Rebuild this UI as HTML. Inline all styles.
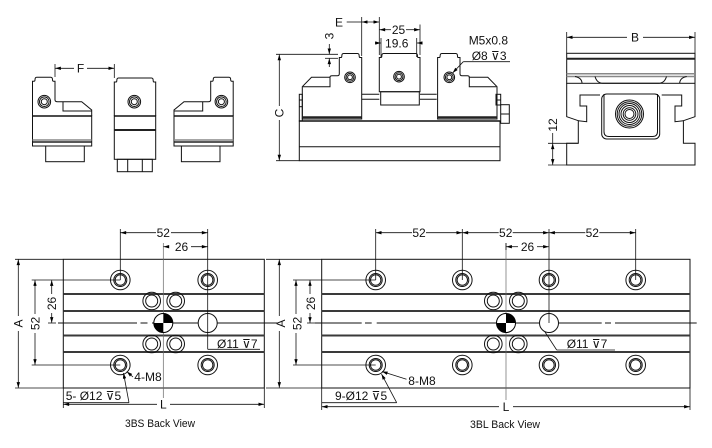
<!DOCTYPE html>
<html><head><meta charset="utf-8"><style>
html,body{margin:0;padding:0;background:#fff;}
svg{display:block;}
text{font-family:"Liberation Sans","DejaVu Sans",sans-serif;font-size:12px;fill:#111;}
.l{stroke:#111;stroke-width:1;fill:none;}
.t{stroke:#111;stroke-width:0.8;fill:none;}
.g{stroke:#3a3a3a;stroke-width:2;fill:none;}
.gy{stroke:#888;stroke-width:1.5;fill:none;}
.c{stroke:#666;stroke-width:0.7;fill:none;}
</style></head><body>
<svg width="712" height="448" viewBox="0 0 712 448" xmlns="http://www.w3.org/2000/svg">
<defs>
<marker id="ar" viewBox="0 0 10 6" refX="10" refY="3" markerWidth="6" markerHeight="3.4" orient="auto-start-reverse" markerUnits="userSpaceOnUse"><path d="M0,0L10,3L0,6z" fill="#000"/></marker>
<g id="jawL">
  <path class="l" d="M32.5,116 V81.2 h1.5 q1,0 1,-1.3 q0,-2.7 1.7,-2.7 H50.8 q1.7,0 1.7,2.7 q0,1.3 1,1.3 h1.5 V99.7 q0,2 2.5,2 H81.7 L91.7,110 V116"/>
  <rect class="l" x="32.5" y="116" width="59.2" height="30"/>
  <line x1="32.5" y1="116" x2="91.7" y2="116" stroke="#111" stroke-width="1.6"/>
  <line class="gy" x1="32.5" y1="140" x2="91.7" y2="140" stroke-width="1"/>
  <line x1="32.5" y1="142" x2="91.7" y2="142" stroke="#222" stroke-width="1.6"/>
  <path class="l" d="M63,101.7 V111 H91.7"/>
  <rect class="l" x="45.7" y="146" width="38.6" height="15.7"/>
  <circle class="l" cx="44.3" cy="101.7" r="6.3"/>
  <circle class="l" cx="44.3" cy="101.7" r="4.8" stroke-width="1.3"/>
  <circle class="l" cx="44.3" cy="101.7" r="3"/>
</g>
<g id="mjL">
  <path class="l" d="M302.3,119 V86.7 L311.5,77.3 H330 Q330,75.7 332,75.7 H337.3 Q339.3,75.7 339.3,73.7 V57.5 h1.5 q1,0 1,-1.3 q0,-2.7 1.7,-2.7 H357.5 q1.7,0 1.7,2.7 q0,1.3 1,1.3 h1.5 V119 Z"/>
  <path class="l" d="M303,86.7 H330 V77.3"/>
  <line x1="302.3" y1="117.3" x2="361.7" y2="117.3" stroke="#222" stroke-width="2"/>
  <circle class="l" cx="350" cy="77.3" r="5.3"/>
  <circle class="l" cx="350" cy="77.3" r="3.9" stroke-width="1.3"/>
  <circle class="l" cx="350" cy="77.3" r="2.4"/>
</g>
<g id="hole">
  <circle class="l" r="9.8"/>
  <circle class="l" r="6.5" stroke-width="1.4"/>
  <circle class="l" r="5.2" stroke-width="0.8"/>
</g>
<g id="pk">
  <circle class="l" r="8.8"/>
  <circle class="l" r="6" stroke-width="1.1"/>
</g>
<g id="cm">
  <circle cx="0" cy="0" r="9.5" fill="#fff" stroke="#000" stroke-width="1"/>
  <path d="M0,0 V-9.5 A9.5,9.5 0 0 1 9.5,0 Z" fill="#000"/>
  <path d="M0,0 V9.5 A9.5,9.5 0 0 1 -9.5,0 Z" fill="#000"/>
</g>
</defs>
<rect width="712" height="448" fill="#fff"/>

<!-- ============ TOP LEFT: jaws ============ -->
<use href="#jawL"/>
<use href="#jawL" transform="translate(265.7,0) scale(-1,1)"/>
<!-- middle jaw -->
<path class="l" d="M114.3,116 V82 h1.5 q1,0 1,-1.3 q0,-2.7 1.7,-2.7 H151.5 q1.7,0 1.7,2.7 q0,1.3 1,1.3 h1.5 V116"/>
<rect class="l" x="114.3" y="116" width="41.4" height="43.3"/>
<line x1="114.3" y1="116" x2="155.7" y2="116" stroke="#111" stroke-width="1.6"/>
<line x1="114.3" y1="130" x2="155.7" y2="130" stroke="#222" stroke-width="2"/>
<rect class="l" x="117.3" y="159.3" width="35" height="12.4"/>
<line class="l" x1="127.7" y1="159.3" x2="127.7" y2="171.7"/>
<line class="l" x1="142.3" y1="159.3" x2="142.3" y2="171.7"/>
<circle class="l" cx="134.3" cy="101.7" r="6.3"/>
<circle class="l" cx="134.3" cy="101.7" r="4.8" stroke-width="1.3"/>
<circle class="l" cx="134.3" cy="101.7" r="3"/>
<!-- F dim -->
<line class="t" x1="55" y1="64" x2="55" y2="77"/>
<line class="t" x1="114.3" y1="64" x2="114.3" y2="78"/>
<line class="t" x1="74" y1="68.3" x2="55.2" y2="68.3" marker-end="url(#ar)"/>
<line class="t" x1="87" y1="68.3" x2="114.1" y2="68.3" marker-end="url(#ar)"/>
<text x="80.5" y="72.6" text-anchor="middle">F</text>

<!-- ============ TOP MIDDLE: assembled vise ============ -->
<rect class="l" x="299.3" y="121" width="200.7" height="39.7"/>
<line x1="299.3" y1="121" x2="500" y2="121" stroke="#111" stroke-width="1.5"/>
<line class="l" x1="299.3" y1="146.7" x2="500" y2="146.7"/>
<!-- left stub -->
<rect class="l" x="299.3" y="94.3" width="3" height="26.7"/>
<line class="l" x1="299.3" y1="100" x2="302.3" y2="100"/>
<line class="l" x1="299.3" y1="106.7" x2="302.3" y2="106.7"/>
<!-- rails -->
<line class="l" x1="361.7" y1="94.3" x2="379.3" y2="94.3"/>
<line class="l" x1="361.7" y1="99.3" x2="379.3" y2="99.3"/>
<line class="l" x1="420" y1="94.3" x2="436.7" y2="94.3"/>
<line class="l" x1="420" y1="99.3" x2="436.7" y2="99.3"/>
<use href="#mjL"/>
<use href="#mjL" transform="translate(799.3,0) scale(-1,1)"/>
<!-- middle jaw -->
<path class="l" d="M379.3,91.7 V57.5 h1.5 q1,0 1,-1.3 q0,-2.7 1.7,-2.7 H415.8 q1.7,0 1.7,2.7 q0,1.3 1,1.3 h1.5 V91.7 Z"/>
<rect class="l" x="380.7" y="91.7" width="38.6" height="13.3"/>
<circle class="l" cx="399" cy="76.7" r="5.3"/>
<circle class="l" cx="399" cy="76.7" r="3.9" stroke-width="1.4"/>
<circle class="l" cx="399" cy="76.7" r="2.4"/>
<!-- right stub + bolt -->
<rect class="l" x="496" y="94.3" width="4.7" height="10.7"/>
<line class="l" x1="496" y1="100" x2="500.7" y2="100"/>
<rect class="l" x="500.7" y="104.7" width="8.6" height="18.6"/>
<line class="l" x1="500.7" y1="114" x2="509.3" y2="114"/>
<!-- C dim -->
<line class="t" x1="276" y1="54.3" x2="338" y2="54.3"/>
<line class="t" x1="276" y1="160.7" x2="299.3" y2="160.7"/>
<line class="t" x1="279.3" y1="106" x2="279.3" y2="54.6" marker-end="url(#ar)"/>
<line class="t" x1="279.3" y1="120" x2="279.3" y2="160.4" marker-end="url(#ar)"/>
<text transform="translate(279.3,113) rotate(-90)" text-anchor="middle" y="4.3">C</text>
<!-- 3 dim -->
<line class="t" x1="325" y1="58.3" x2="338" y2="58.3"/>
<line class="t" x1="329.3" y1="44" x2="329.3" y2="54.1" marker-end="url(#ar)"/>
<line class="t" x1="329.3" y1="67" x2="329.3" y2="58.5" marker-end="url(#ar)"/>
<text transform="translate(329.3,36) rotate(-90)" text-anchor="middle" y="4.3">3</text>
<!-- E dim -->
<text x="339" y="26.3" text-anchor="middle">E</text>
<line class="t" x1="346.7" y1="22" x2="361.7" y2="22"/>
<line class="t" x1="361.9" y1="22" x2="379.1" y2="22" marker-start="url(#ar)" marker-end="url(#ar)"/>
<line class="t" x1="361.7" y1="17" x2="361.7" y2="56"/>
<line class="t" x1="379.3" y1="17" x2="379.3" y2="55"/>
<!-- 25 dim -->
<line class="t" x1="391" y1="29.7" x2="379.5" y2="29.7" marker-end="url(#ar)"/>
<line class="t" x1="406" y1="29.7" x2="419.8" y2="29.7" marker-end="url(#ar)"/>
<line class="t" x1="420" y1="24.5" x2="420" y2="55"/>
<text x="398.5" y="34" text-anchor="middle">25</text>
<!-- 19.6 dim -->
<line class="t" x1="375" y1="43" x2="380.8" y2="43" marker-end="url(#ar)"/>
<line class="t" x1="422.5" y1="43" x2="416.9" y2="43" marker-end="url(#ar)"/>
<line class="t" x1="381" y1="38" x2="381" y2="57"/>
<line class="t" x1="416.7" y1="38" x2="416.7" y2="57"/>
<text x="396.7" y="47.3" text-anchor="middle">19.6</text>
<!-- M5 callout -->
<text x="468.7" y="44.5">M5x0.8</text>
<text x="471.7" y="60">Ø8 ⊽3</text>
<line class="t" x1="463.3" y1="61.7" x2="510" y2="61.7"/>
<line class="t" x1="463.3" y1="61.7" x2="452.6" y2="73" marker-end="url(#ar)"/>

<!-- ============ TOP RIGHT: side view ============ -->
<line class="t" x1="566.7" y1="32" x2="566.7" y2="53.3"/>
<line class="t" x1="695" y1="32" x2="695" y2="53.3"/>
<line class="t" x1="627" y1="37.3" x2="566.9" y2="37.3" marker-end="url(#ar)"/>
<line class="t" x1="643" y1="37.3" x2="694.8" y2="37.3" marker-end="url(#ar)"/>
<text x="635" y="41.6" text-anchor="middle">B</text>
<rect class="l" x="566.7" y="53.3" width="128.3" height="30"/>
<line x1="566.7" y1="58.8" x2="695" y2="58.8" stroke="#222" stroke-width="2"/>
<line class="gy" x1="566.7" y1="73.8" x2="695" y2="73.8"/>
<line class="gy" x1="566.7" y1="76.5" x2="695" y2="76.5"/>
<path class="l" d="M595,76.5 Q597,83.3 603,83.3 H658.5 Q664.5,83.3 666.5,76.5"/>
<path class="l" d="M575,76.5 Q582,78 582,83.3"/>
<path class="l" d="M686.7,76.5 Q679.7,78 679.7,83.3"/>
<path class="l" d="M566.7,83.3 V116.7 L578.3,120.7 V143.3 H566.7 V165 H695 V143.3 H683.4 V120.7 L695,116.7 V83.3"/>
<path class="l" d="M600,95 H580 V106 H586.7 V121.7 L578.3,120.7"/>
<path class="l" d="M661.7,95 H681.7 V106 H675 V121.7 L683.4,120.7"/>
<rect class="l" x="601.7" y="94" width="58" height="45" rx="5"/>
<path class="l" d="M604,94 V131.5 q0,5 5,5 H652.5 q5,0 5,-5 V94"/>
<circle class="l" cx="629.5" cy="114" r="14"/>
<circle class="l" cx="629.5" cy="114" r="12.3"/>
<circle class="l" cx="629.5" cy="114" r="10.5"/>
<circle class="l" cx="629.5" cy="114" r="8.5"/>
<circle class="l" cx="629.5" cy="114" r="6.3" stroke-width="1.6"/>
<circle class="l" cx="629.5" cy="114" r="4.5"/>
<!-- 12 dim -->
<line class="t" x1="548" y1="143.3" x2="578.3" y2="143.3"/>
<line class="t" x1="548" y1="165" x2="566.7" y2="165"/>
<line class="t" x1="552.7" y1="133" x2="552.7" y2="143.3"/>
<line class="t" x1="552.7" y1="143.5" x2="552.7" y2="164.8" marker-start="url(#ar)" marker-end="url(#ar)"/>
<text transform="translate(552.7,125) rotate(-90)" text-anchor="middle" y="4.3">12</text>

<!-- ============ BOTTOM LEFT: 3BS back view ============ -->
<rect class="l" x="63.3" y="259.3" width="201" height="128.7"/>
<line class="g" x1="63.3" y1="294" x2="264.3" y2="294"/>
<line class="g" x1="63.3" y1="311" x2="264.3" y2="311"/>
<line class="g" x1="63.3" y1="335.5" x2="264.3" y2="335.5"/>
<line class="g" x1="63.3" y1="352" x2="264.3" y2="352"/>
<!-- centre lines -->
<line class="l" x1="58" y1="323" x2="137" y2="323"/>
<line class="l" x1="140.5" y1="323" x2="147.5" y2="323"/>
<line class="l" x1="152" y1="323" x2="277" y2="323"/>
<line class="c" x1="163.3" y1="243" x2="163.3" y2="398"/>
<use href="#hole" x="120.3" y="280"/>
<use href="#hole" x="207.7" y="280"/>
<use href="#hole" x="120.3" y="365"/>
<use href="#hole" x="207.7" y="365"/>
<use href="#pk" x="151.7" y="301"/>
<use href="#pk" x="175.7" y="301"/>
<use href="#pk" x="151.7" y="344"/>
<use href="#pk" x="175.7" y="344"/>
<circle cx="207.7" cy="323" r="9.5" fill="#fff" stroke="#111" stroke-width="1"/>
<use href="#cm" x="163.3" y="323"/>
<!-- top dims -->
<line class="t" x1="120.3" y1="229" x2="120.3" y2="280"/>
<line class="t" x1="207.7" y1="229" x2="207.7" y2="349.3"/>
<line class="t" x1="207.7" y1="349.3" x2="260" y2="349.3"/>
<line class="t" x1="156" y1="232.7" x2="120.5" y2="232.7" marker-end="url(#ar)"/>
<line class="t" x1="171" y1="232.7" x2="207.5" y2="232.7" marker-end="url(#ar)"/>
<text x="163.3" y="237" text-anchor="middle">52</text>
<line class="t" x1="169" y1="246.7" x2="163.5" y2="246.7" marker-end="url(#ar)"/>
<line class="t" x1="191" y1="246.7" x2="207.5" y2="246.7" marker-end="url(#ar)"/>
<text x="181.5" y="251" text-anchor="middle">26</text>
<text x="217" y="348">Ø11 ⊽7</text>
<!-- left dims -->
<line class="t" x1="15" y1="259.3" x2="63.3" y2="259.3"/>
<line class="t" x1="15" y1="388" x2="63.3" y2="388"/>
<line class="t" x1="18.3" y1="316" x2="18.3" y2="259.5" marker-end="url(#ar)"/>
<line class="t" x1="18.3" y1="331" x2="18.3" y2="387.8" marker-end="url(#ar)"/>
<text transform="translate(18.3,323.5) rotate(-90)" text-anchor="middle" y="4.3">A</text>
<line class="t" x1="31.7" y1="280" x2="120.3" y2="280"/>
<line class="t" x1="31.7" y1="365" x2="120.3" y2="365"/>
<line class="t" x1="35" y1="314" x2="35" y2="280.2" marker-end="url(#ar)"/>
<line class="t" x1="35" y1="333" x2="35" y2="364.8" marker-end="url(#ar)"/>
<text transform="translate(35,323.5) rotate(-90)" text-anchor="middle" y="4.3">52</text>
<line class="t" x1="51.7" y1="294" x2="51.7" y2="280.2" marker-end="url(#ar)"/>
<line class="t" x1="51.7" y1="313" x2="51.7" y2="322.8" marker-end="url(#ar)"/>
<line class="t" x1="48" y1="323" x2="56" y2="323"/>
<text transform="translate(51.7,303.5) rotate(-90)" text-anchor="middle" y="4.3">26</text>
<!-- callouts -->
<line class="t" x1="133" y1="377" x2="126.8" y2="371.5" marker-end="url(#ar)"/>
<text x="134.3" y="381">4-M8</text>
<text x="65.7" y="400">5- Ø12 ⊽5</text>
<line class="t" x1="63.3" y1="402.7" x2="129" y2="402.7"/>
<line class="t" x1="129" y1="402.7" x2="123.5" y2="373" marker-end="url(#ar)"/>
<!-- L dim -->
<line class="t" x1="63.3" y1="388" x2="63.3" y2="408"/>
<line class="t" x1="264.3" y1="388" x2="264.3" y2="408"/>
<line class="t" x1="157" y1="404.3" x2="63.5" y2="404.3" marker-end="url(#ar)"/>
<line class="t" x1="170" y1="404.3" x2="264.1" y2="404.3" marker-end="url(#ar)"/>
<text x="163.3" y="408.6" text-anchor="middle">L</text>
<text x="160" y="427" text-anchor="middle" style="font-size:11px" textLength="70" lengthAdjust="spacingAndGlyphs">3BS Back View</text>

<!-- ============ BOTTOM RIGHT: 3BL back view ============ -->
<rect class="l" x="321.7" y="259.3" width="368.3" height="128.7"/>
<line class="g" x1="321.7" y1="294" x2="690" y2="294"/>
<line class="g" x1="321.7" y1="311" x2="690" y2="311"/>
<line class="g" x1="321.7" y1="335.5" x2="690" y2="335.5"/>
<line class="g" x1="321.7" y1="352" x2="690" y2="352"/>
<line class="l" x1="315" y1="323" x2="361.7" y2="323"/>
<line class="l" x1="365" y1="323" x2="371.7" y2="323"/>
<line class="l" x1="376.7" y1="323" x2="601.7" y2="323"/>
<line class="l" x1="605" y1="323" x2="611" y2="323"/>
<line class="l" x1="615" y1="323" x2="696.7" y2="323"/>
<line class="c" x1="506" y1="243" x2="506" y2="400"/>
<use href="#hole" x="375.7" y="280"/>
<use href="#hole" x="462.3" y="280"/>
<use href="#hole" x="549" y="280"/>
<use href="#hole" x="635.7" y="280"/>
<use href="#hole" x="375.7" y="365"/>
<use href="#hole" x="462.3" y="365"/>
<use href="#hole" x="549" y="365"/>
<use href="#hole" x="635.7" y="365"/>
<use href="#pk" x="493.3" y="301"/>
<use href="#pk" x="518.3" y="301"/>
<use href="#pk" x="493.3" y="344"/>
<use href="#pk" x="518.3" y="344"/>
<circle cx="549" cy="323" r="9.5" fill="#fff" stroke="#111" stroke-width="1"/>
<use href="#cm" x="506" y="323"/>
<!-- top dims -->
<line class="t" x1="375.7" y1="229" x2="375.7" y2="280"/>
<line class="t" x1="462.3" y1="229" x2="462.3" y2="280"/>
<line class="t" x1="549" y1="229" x2="549" y2="323"/>
<line class="t" x1="635.7" y1="229" x2="635.7" y2="280"/>
<line class="t" x1="412" y1="232.7" x2="375.9" y2="232.7" marker-end="url(#ar)"/>
<line class="t" x1="426" y1="232.7" x2="462.1" y2="232.7" marker-end="url(#ar)"/>
<text x="419" y="237" text-anchor="middle">52</text>
<line class="t" x1="498.7" y1="232.7" x2="462.5" y2="232.7" marker-end="url(#ar)"/>
<line class="t" x1="512.7" y1="232.7" x2="548.8" y2="232.7" marker-end="url(#ar)"/>
<text x="505.7" y="237" text-anchor="middle">52</text>
<line class="t" x1="585.3" y1="232.7" x2="549.2" y2="232.7" marker-end="url(#ar)"/>
<line class="t" x1="599.3" y1="232.7" x2="635.5" y2="232.7" marker-end="url(#ar)"/>
<text x="592.3" y="237" text-anchor="middle">52</text>
<line class="t" x1="506" y1="243" x2="506" y2="250"/>
<line class="t" x1="518" y1="246.7" x2="506.2" y2="246.7" marker-end="url(#ar)"/>
<line class="t" x1="537" y1="246.7" x2="548.8" y2="246.7" marker-end="url(#ar)"/>
<text x="527.5" y="251" text-anchor="middle">26</text>
<!-- dia 11 leader -->
<line class="t" x1="545" y1="332" x2="556.7" y2="350"/>
<line class="t" x1="556.7" y1="350" x2="615" y2="350"/>
<text x="566.7" y="348">Ø11 ⊽7</text>
<!-- left dims -->
<line class="t" x1="266" y1="259.3" x2="321.7" y2="259.3"/>
<line class="t" x1="266" y1="388" x2="321.7" y2="388"/>
<line class="t" x1="279.3" y1="316" x2="279.3" y2="259.5" marker-end="url(#ar)"/>
<line class="t" x1="279.3" y1="331" x2="279.3" y2="387.8" marker-end="url(#ar)"/>
<text transform="translate(280.5,323.5) rotate(-90)" text-anchor="middle" y="4.3">A</text>
<line class="t" x1="293" y1="280" x2="375.7" y2="280"/>
<line class="t" x1="293" y1="365" x2="375.7" y2="365"/>
<line class="t" x1="296" y1="314" x2="296" y2="280.2" marker-end="url(#ar)"/>
<line class="t" x1="296" y1="333" x2="296" y2="364.8" marker-end="url(#ar)"/>
<text transform="translate(297,323.5) rotate(-90)" text-anchor="middle" y="4.3">52</text>
<line class="t" x1="310" y1="294" x2="310" y2="280.2" marker-end="url(#ar)"/>
<line class="t" x1="310" y1="313" x2="310" y2="322.8" marker-end="url(#ar)"/>
<line class="t" x1="307" y1="323" x2="315" y2="323"/>
<text transform="translate(310.5,303.5) rotate(-90)" text-anchor="middle" y="4.3">26</text>
<!-- callouts -->
<line class="t" x1="406.5" y1="379.3" x2="382" y2="371.5" marker-end="url(#ar)"/>
<text x="408.3" y="385">8-M8</text>
<text x="335" y="400">9-Ø12 ⊽5</text>
<line class="t" x1="321.7" y1="402.7" x2="396.7" y2="402.7"/>
<line class="t" x1="396.7" y1="402.7" x2="381.5" y2="374" marker-end="url(#ar)"/>
<!-- L dim -->
<line class="t" x1="321.7" y1="388" x2="321.7" y2="410"/>
<line class="t" x1="690" y1="388" x2="690" y2="410"/>
<line class="t" x1="499" y1="406.7" x2="321.9" y2="406.7" marker-end="url(#ar)"/>
<line class="t" x1="513" y1="406.7" x2="689.8" y2="406.7" marker-end="url(#ar)"/>
<text x="506" y="411" text-anchor="middle">L</text>
<text x="505" y="428" text-anchor="middle" style="font-size:11px" textLength="70" lengthAdjust="spacingAndGlyphs">3BL Back View</text>
</svg>
</body></html>
